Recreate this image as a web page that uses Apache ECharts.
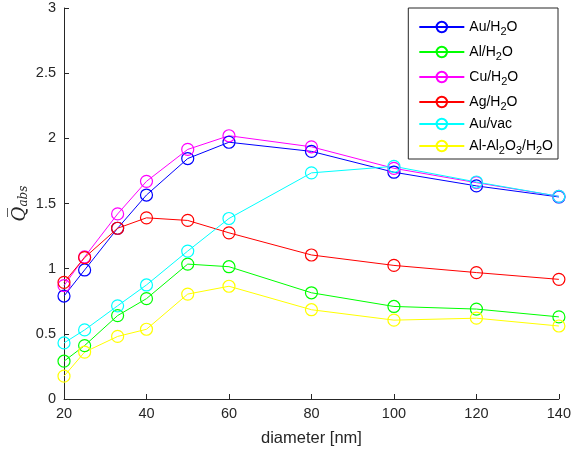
<!DOCTYPE html>
<html>
<head>
<meta charset="utf-8">
<script src="https://cdn.jsdelivr.net/npm/echarts@6/dist/echarts.min.js"></script>
<style>
html,body{margin:0;padding:0;background:#fff;}
#chart{width:574px;height:453px;}
</style>
</head>
<body>
<div id="chart"></div>
<script>
// Particle diameters (nm)
const diameters = [20, 25, 33, 40, 50, 60, 80, 100, 120, 140];

// Mean absorption efficiency per material/medium
const auH2O   = [0.79, 0.99, 1.31, 1.565, 1.845, 1.97, 1.90, 1.74, 1.635, 1.55];
const alH2O   = [0.29, 0.41, 0.64, 0.77, 1.035, 1.015, 0.815, 0.71, 0.69, 0.63];
const cuH2O   = [0.87, 1.09, 1.42, 1.67, 1.915, 2.02, 1.935, 1.77, 1.66, 1.555];
const agH2O   = [0.895, 1.085, 1.31, 1.39, 1.37, 1.275, 1.105, 1.025, 0.97, 0.918];
const auVac   = [0.43, 0.53, 0.715, 0.875, 1.135, 1.385, 1.735, 1.785, 1.665, 1.555];
const alOxH2O = [0.175, 0.36, 0.48, 0.535, 0.805, 0.865, 0.685, 0.605, 0.62, 0.56];

const xTicks = [20, 40, 60, 80, 100, 120, 140];

// legend labels split into alternating normal / subscript pieces
const seriesDefs = [
  { name: 'Au/H2O',       label: ['Au/H', '2', 'O'], data: auH2O,   color: '#0000ff' },
  { name: 'Al/H2O',       label: ['Al/H', '2', 'O'], data: alH2O,   color: '#00ff00' },
  { name: 'Cu/H2O',       label: ['Cu/H', '2', 'O'], data: cuH2O,   color: '#ff00ff' },
  { name: 'Ag/H2O',       label: ['Ag/H', '2', 'O'], data: agH2O,   color: '#ff0000' },
  { name: 'Au/vac',       label: ['Au/vac'],         data: auVac,   color: '#00ffff' },
  { name: 'Al-Al2O3/H2O', label: ['Al-Al', '2', 'O', '3', '/H', '2', 'O'], data: alOxH2O, color: '#ffff00' }
];

const legendText = {};
seriesDefs.forEach(d => {
  legendText[d.name] = d.label.map((p, i) => (i % 2 === 0 ? '{n|' + p + '}' : '{s|' + p + '}')).join('');
});

const axisColor = '#262626';
const chart = echarts.init(document.getElementById('chart'), null, { renderer: 'canvas' });

chart.setOption({
  animation: false,
  backgroundColor: '#ffffff',
  grid: { left: 64, right: 11, top: 8, bottom: 54, containLabel: false },
  legend: {
    orient: 'vertical',
    right: 16,
    top: 8,
    padding: [9, 5, 3, 10],
    itemGap: 5,
    itemWidth: 45,
    itemHeight: 13,
    borderColor: axisColor,
    borderWidth: 1,
    backgroundColor: '#ffffff',
    data: seriesDefs.map(d => d.name),
    formatter: name => legendText[name],
    textStyle: {
      color: '#000',
      padding: [0, 0, 0, 0],
      rich: {
        n: { fontFamily: 'Liberation Sans', fontSize: 14, color: '#000', lineHeight: 15 },
        s: { fontFamily: 'Liberation Sans', fontSize: 11, color: '#000', padding: [9, 0, 0, 0], lineHeight: 15 }
      }
    }
  },
  xAxis: {
    type: 'value',
    min: 20,
    max: 140,
    interval: 20,
    name: 'diameter [nm]',
    nameLocation: 'middle',
    nameGap: 31,
    nameMoveOverlap: false,
    nameTextStyle: { fontFamily: 'Liberation Sans', fontSize: 16.5, color: axisColor },
    axisLine: { show: true, lineStyle: { color: axisColor, width: 1 } },
    axisTick: { show: true, inside: true, length: 5, lineStyle: { color: axisColor } },
    axisLabel: { fontFamily: 'Liberation Sans', fontSize: 14.5, color: axisColor, margin: 7,
      formatter: v => (xTicks.indexOf(v) >= 0 ? String(v) : '') },
    splitLine: { show: false }
  },
  yAxis: {
    type: 'value',
    min: 0,
    max: 3,
    interval: 0.5,
    name: '{q|Q\u0305}{s|abs}',
    nameLocation: 'middle',
    nameGap: 34,
    nameMoveOverlap: false,
    nameRotate: 90,
    nameTextStyle: {
      rich: {
        q: { fontFamily: 'DejaVu Serif', fontStyle: 'italic', fontSize: 18, color: axisColor },
        s: { fontFamily: 'DejaVu Serif', fontStyle: 'italic', fontSize: 12, color: axisColor, padding: [8, 0, 0, 0] }
      }
    },
    axisLine: { show: true, lineStyle: { color: axisColor, width: 1 } },
    axisTick: { show: true, inside: true, length: 5, lineStyle: { color: axisColor } },
    axisLabel: { fontFamily: 'Liberation Sans', fontSize: 14.5, color: axisColor, margin: 8,
      formatter: v => String(v) },
    splitLine: { show: false }
  },
  series: seriesDefs.map(d => ({
    name: d.name,
    type: 'line',
    data: diameters.map((x, i) => [x, d.data[i]]),
    color: d.color,
    symbol: 'circle',
    symbolSize: 12,
    showAllSymbol: true,
    lineStyle: { color: d.color, width: 1 },
    itemStyle: { color: 'rgba(255,255,255,0)', borderColor: d.color, borderWidth: 1.2 },
    emphasis: { disabled: true }
  }))
});
</script>
</body>
</html>
